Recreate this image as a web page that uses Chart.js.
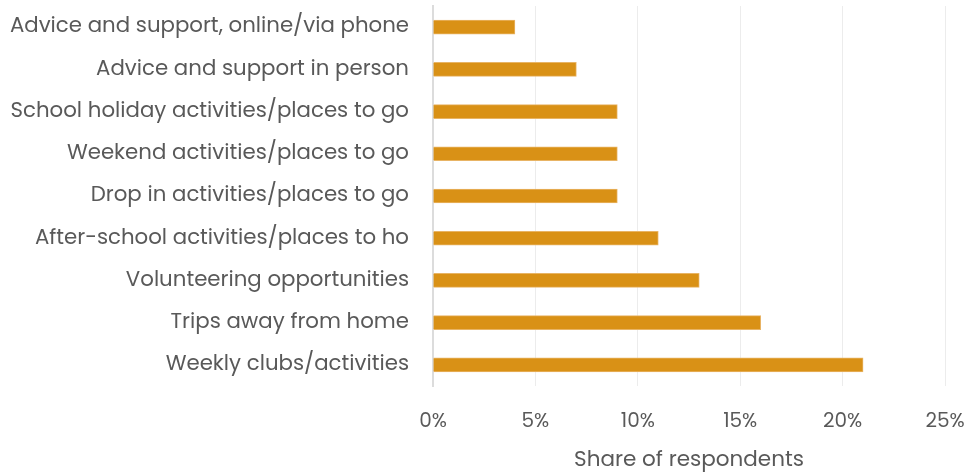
<!DOCTYPE html>
<html>
<head>
<meta charset="utf-8">
<script src="https://cdn.jsdelivr.net/npm/chart.js@4"></script>
<style>
    html, body { margin: 0; padding: 0; background: #fff; }
    #wrap { width: 967px; height: 474px; }
</style>
</head>
<body>
<div id="wrap"><canvas id="support_bar"></canvas></div>
<script>
const labels_support = [
    'Advice and support, online/via phone',
    'Advice and support in person',
    'School holiday activities/places to go',
    'Weekend activities/places to go',
    'Drop in activities/places to go',
    'After-school activities/places to ho',
    'Volunteering opportunities',
    'Trips away from home',
    'Weekly clubs/activities'
];
const data_support = [4, 7, 9, 9, 9, 11, 13, 16, 21];
const x_ticks = [0, 5, 10, 15, 20, 25];

const font_family = 'Poppins, "Noto Sans", "Open Sans", sans-serif';

const support_bar = document.getElementById('support_bar').getContext('2d');
new Chart(support_bar, {
    type: 'bar',
    data: {
        labels: labels_support,
        datasets: [{
            data: data_support,
            backgroundColor: '#d99116',
            borderColor: '#e8b465',
            borderWidth: 1,
            barThickness: 14
        }]
    },
    options: {
        indexAxis: 'y',
        responsive: true,
        maintainAspectRatio: false,
        animation: false,
        layout: {
            padding: { top: 6, right: 22, left: 0, bottom: 0 }
        },
        plugins: {
            legend: { display: false },
            tooltip: { enabled: false }
        },
        scales: {
            x: {
                min: 0,
                max: 25,
                afterBuildTicks: (scale) => {
                    scale.ticks = x_ticks.map(v => ({ value: v }));
                },
                afterFit: (scale) => {
                    scale.height = 88;
                    scale.paddingLeft = 0;
                    scale.paddingRight = 0;
                },
                grid: { color: '#ececec', lineWidth: 1, drawTicks: false },
                border: { display: false },
                ticks: {
                    padding: 24,
                    color: '#595959',
                    font: { family: font_family, size: 20 },
                    callback: (v) => v + '%'
                },
                title: {
                    display: true,
                    text: 'Share of respondents',
                    color: '#595959',
                    font: { family: font_family, size: 21.5 },
                    padding: { top: 8, bottom: 0 }
                }
            },
            y: {
                afterFit: (scale) => {
                    scale.width = 433;
                    scale.paddingTop = 0;
                    scale.paddingBottom = 0;
                },
                grid: { display: false },
                border: { display: true, color: '#dcdcdc', width: 2 },
                ticks: {
                    padding: 16,
                    color: '#595959',
                    font: { family: font_family, size: 21.3 }
                }
            }
        }
    }
});
</script>
</body>
</html>
